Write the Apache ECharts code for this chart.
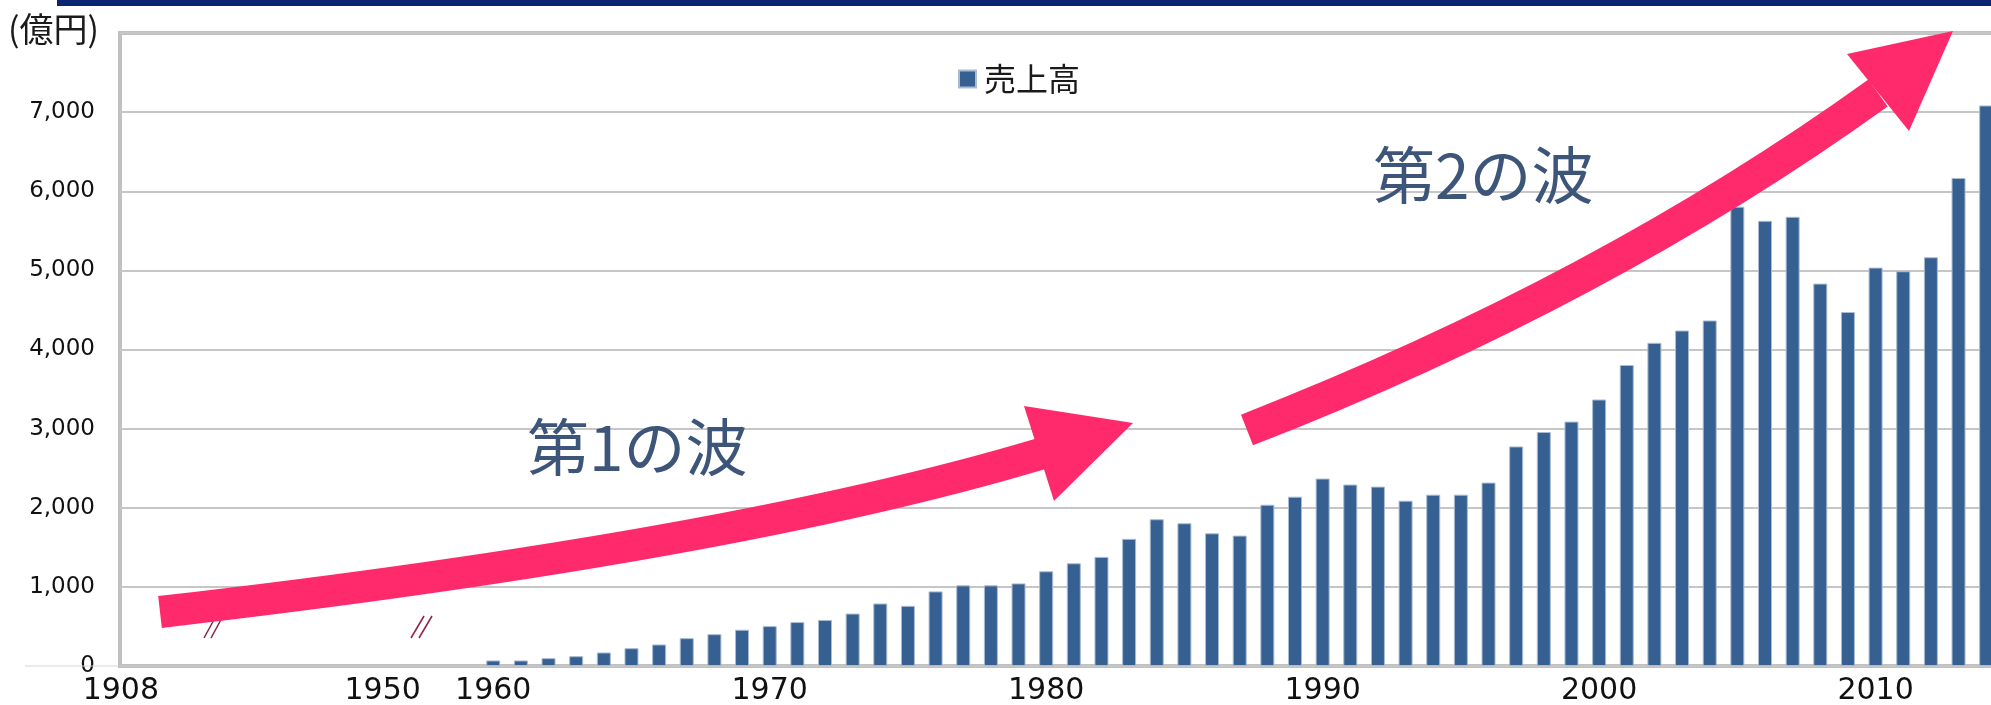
<!DOCTYPE html>
<html>
<head>
<meta charset="utf-8">
<script src="https://cdn.jsdelivr.net/npm/echarts@6/dist/echarts.min.js"></script>
<style>
  html, body { margin: 0; padding: 0; background: #fff; }
  #chart { width: 1991px; height: 705px; }
</style>
</head>
<body>
<div id="chart"></div>
<script>
// 売上高の推移 (億円) — 1908〜1950 は省略区間
const preYears = ['1908', '', '', '', '', '', '', '', '', '1950', '', '', '']
const years = [
  '1960', '1961', '1962', '1963', '1964', '1965', '1966', '1967', '1968', '1969',
  '1970', '1971', '1972', '1973', '1974', '1975', '1976', '1977', '1978', '1979',
  '1980', '1981', '1982', '1983', '1984', '1985', '1986', '1987', '1988', '1989',
  '1990', '1991', '1992', '1993', '1994', '1995', '1996', '1997', '1998', '1999',
  '2000', '2001', '2002', '2003', '2004', '2005', '2006', '2007', '2008', '2009',
  '2010', '2011', '2012', '2013', '2014'
]
const sales = [
  70, 70, 99, 124, 171, 225, 272, 352, 402, 458,
  504, 555, 582, 663, 790, 760, 943, 1019, 1019, 1044,
  1197, 1298, 1379, 1607, 1855, 1804, 1677, 1648, 2038, 2140,
  2369, 2293, 2267, 2089, 2165, 2165, 2318, 2775, 2957, 3089,
  3368, 3804, 4084, 4240, 4367, 5805, 5626, 5677, 4833, 4473,
  5035, 4989, 5166, 6167, 7084
]
const tickLabels = ['1908', '1950', '1960', '1970', '1980', '1990', '2000', '2010']

const categories = preYears.concat(years)
const barData = preYears.map(() => '-').concat(sales)

const pink = '#ff2a6c'
const breakColor = '#8e1f46'

let option = {
  backgroundColor: '#fff',
  animation: false,
  title: {
    text: '(億円)',
    left: 8,
    top: 12,
    padding: 0,
    textStyle: {
      fontFamily: 'Noto Sans CJK JP',
      fontWeight: 'normal',
      fontSize: 34,
      color: '#1a1a1a'
    }
  },
  legend: {
    left: 953,
    top: 58,
    itemWidth: 17,
    itemHeight: 17,
    icon: 'rect',
    data: ['売上高'],
    textStyle: {
      fontFamily: 'Noto Sans CJK JP',
      fontSize: 32,
      color: '#1a1a1a',
      padding: [0, 0, 0, 3]
    }
  },
  grid: {
    left: 120,
    top: 33,
    width: 1880,
    height: 633,
    show: true,
    borderWidth: 4,
    borderColor: '#c0c0c0',
    outerBoundsMode: 'none'
  },
  xAxis: {
    type: 'category',
    data: categories,
    boundaryGap: true,
    axisLine: { show: false },
    axisTick: { show: false },
    axisLabel: {
      interval: 0,
      margin: 10,
      fontFamily: 'DejaVu Sans',
      fontSize: 30,
      color: '#111',
      formatter: (v, i) => {
        if (!tickLabels.includes(v)) return ''
        return i === 0 ? '{first|' + v + '}' : v
      },
      rich: {
        first: { fontFamily: 'DejaVu Sans', fontSize: 30, color: '#111', padding: [0, 26, 0, 0] }
      }
    }
  },
  yAxis: {
    type: 'value',
    min: 0,
    max: 8000,
    interval: 1000,
    axisLine: { show: false },
    axisTick: { show: false },
    axisLabel: {
      margin: 25,
      fontFamily: 'DejaVu Sans',
      fontSize: 23,
      color: '#111',
      formatter: v => (v === 8000 ? '' : v.toLocaleString('en-US'))
    },
    splitLine: { lineStyle: { color: '#c6c6c6', width: 2 } }
  },
  series: [
    {
      name: '売上高',
      type: 'bar',
      barWidth: 14,
      data: barData,
      itemStyle: {
        color: '#366092',
        borderColor: '#a9bbd1',
        borderWidth: 1
      }
    }
  ],
  graphic: [
    // 上部の帯
    { type: 'rect', shape: { x: 57, y: 0, width: 1940, height: 6 }, style: { fill: '#0b2473' }, z: 100 },
    // ゼロ線の左側
    { type: 'line', shape: { x1: 25, y1: 666, x2: 118, y2: 666 }, style: { stroke: '#d6d6d6', lineWidth: 1 }, z: 1 },
    // 省略記号 //
    { type: 'line', shape: { x1: 204, y1: 638, x2: 216, y2: 616 }, style: { stroke: breakColor, lineWidth: 1.5 }, z: 100 },
    { type: 'line', shape: { x1: 211, y1: 638, x2: 223, y2: 616 }, style: { stroke: breakColor, lineWidth: 1.5 }, z: 100 },
    { type: 'line', shape: { x1: 411, y1: 638, x2: 424, y2: 616 }, style: { stroke: breakColor, lineWidth: 1.5 }, z: 100 },
    { type: 'line', shape: { x1: 419, y1: 638, x2: 432, y2: 616 }, style: { stroke: breakColor, lineWidth: 1.5 }, z: 100 },
    // 第1の波 矢印
    {
      type: 'bezierCurve',
      shape: { x1: 160, y1: 612, cpx1: 733, cpy1: 546, x2: 1040, y2: 454 },
      style: { stroke: pink, lineWidth: 32, fill: 'none' },
      z: 100
    },
    {
      type: 'polygon',
      shape: { points: [[1024, 406], [1133, 423], [1054, 501]] },
      style: { fill: pink },
      z: 100
    },
    // 第2の波 矢印
    {
      type: 'bezierCurve',
      shape: { x1: 1247, y1: 430, cpx1: 1603, cpy1: 291, x2: 1878, y2: 93 },
      style: { stroke: pink, lineWidth: 33, fill: 'none' },
      z: 100
    },
    {
      type: 'polygon',
      shape: { points: [[1847, 54], [1953, 31], [1909, 131]] },
      style: { fill: pink },
      z: 100
    },
    {
      type: 'text',
      x: 527, y: 447,
      style: {
        text: '第1の波',
        font: '62px "Noto Sans CJK JP"',
        fill: '#3d5578',
        textVerticalAlign: 'middle'
      },
      z: 100
    },
    {
      type: 'text',
      x: 1373, y: 175,
      style: {
        text: '第2の波',
        font: '62px "Noto Sans CJK JP"',
        fill: '#3d5578',
        textVerticalAlign: 'middle'
      },
      z: 100
    }
  ]
}

const myChart = echarts.init(document.getElementById('chart'))
myChart.setOption(option)
</script>
</body>
</html>
